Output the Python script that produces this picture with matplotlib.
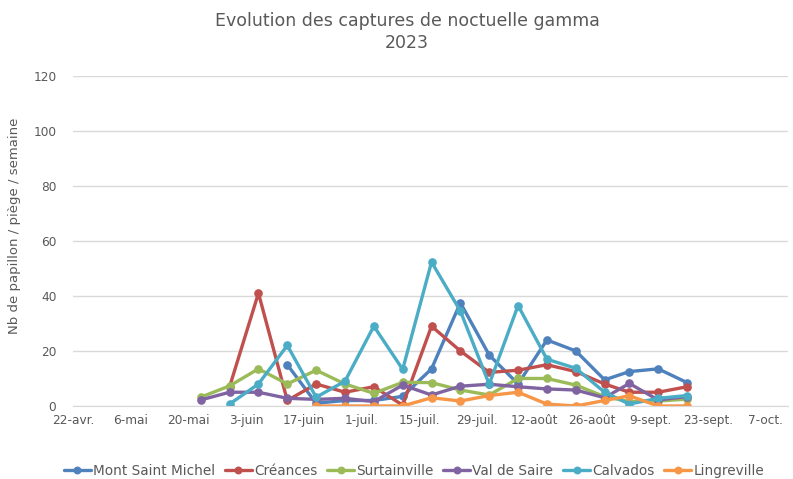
import matplotlib
matplotlib.use("Agg")
import matplotlib.pyplot as plt
import numpy as np
import datetime as dt

nan = np.nan

dates = ["2023-05-23", "2023-05-30", "2023-06-06", "2023-06-13", "2023-06-20",
         "2023-06-27", "2023-07-04", "2023-07-11", "2023-07-18", "2023-07-25",
         "2023-08-01", "2023-08-08", "2023-08-15", "2023-08-22", "2023-08-29",
         "2023-09-04", "2023-09-11", "2023-09-18"]

mont_saint_michel = [nan, nan, nan, 15, 1, 2, 2, 3.5, 13.5, 37.5, 18.5, 8, 24, 20, 9.5, 12.5, 13.5, 8.5]
creances = [nan, 7, 41, 2, 8, 5, 7, 0.3, 29, 20, 12.2, 13, 15, 12.5, 8, 5, 5, 7]
surtainville = [3.2, 7.3, 13.5, 8, 13, 8, 4.6, 8.6, 8.5, 5.8, 4, 10, 10, 7.6, 3.4, 1.6, 1.8, 2.5]
val_de_saire = [2.2, 5, 5, 2.8, 2.4, 2.8, 1.6, 7.6, 4, 7.2, 7.9, 7, 6.2, 5.8, 3, 8.2, 2.2, 3.4]
calvados = [nan, 0.7, 8, 22, 3.2, 9, 29, 13.3, 52.3, 34.5, 7.9, 36.5, 17, 13.7, 5, 0.7, 2.8, 3.8]
lingreville = [nan, nan, nan, nan, 0, 0, 0, 0, 3, 1.8, 3.8, 5, 0.7, 0, 2, 3.7, 0, 0]

series_names = ["Mont Saint Michel", "Créances", "Surtainville", "Val de Saire", "Calvados", "Lingreville"]
series_values = [mont_saint_michel, creances, surtainville, val_de_saire, calvados, lingreville]
colors = ["#4F81BD", "#C0504D", "#9BBB59", "#8064A2", "#4BACC6", "#F79646"]

tick_dates = ["2023-04-22", "2023-05-06", "2023-05-20", "2023-06-03", "2023-06-17",
              "2023-07-01", "2023-07-15", "2023-07-29", "2023-08-12", "2023-08-26",
              "2023-09-09", "2023-09-23", "2023-10-07"]
tick_labels = ["22-avr.", "6-mai", "20-mai", "3-juin", "17-juin", "1-juil.", "15-juil.",
               "29-juil.", "12-août", "26-août", "9-sept.", "23-sept.", "7-oct."]

title = "Evolution des captures de noctuelle gamma\n2023"
ylabel = "Nb de papillon / piège / semaine"

plt.rcParams['font.family'] = ['DejaVu Sans']
txt = "#595959"

fig = plt.figure(figsize=(7.93, 4.79), dpi=100)
ax = fig.add_axes([73/793, 1-406/479, (788-73)/793, (406-75.7)/479])

x = [dt.datetime.strptime(d, "%Y-%m-%d") for d in dates]
for name, vals, c in zip(series_names, series_values, colors):
    ax.plot(x, vals, color=c, lw=2.4, marker='o', markersize=5.2, label=name,
            solid_joinstyle='round', solid_capstyle='round')

x0 = dt.datetime(2023, 4, 22)
ax.set_xlim(x0, x0 + dt.timedelta(days=173.5))
ax.set_ylim(0, 120)
ax.set_yticks(np.arange(0, 121, 20))
ax.set_xticks([dt.datetime.strptime(d, "%Y-%m-%d") for d in tick_dates])
ax.set_xticklabels(tick_labels)

ax.grid(axis='y', color="#D9D9D9", lw=1)
ax.set_axisbelow(True)
for s in ['top', 'right', 'left']:
    ax.spines[s].set_visible(False)
ax.spines['bottom'].set_color("#D9D9D9")
ax.tick_params(axis='both', length=0, colors=txt, labelsize=8.7)
ax.tick_params(axis='y', pad=12)
ax.tick_params(axis='x', pad=6)

fig.text(15/793, 1-226/479, ylabel, rotation=90, ha='center', va='center', color=txt, fontsize=9.5)
fig.text(407/793, 1-32/479, title, ha='center', va='center', color=txt, fontsize=12.5, linespacing=1.35)

leg = fig.legend(loc='center', bbox_to_anchor=(414/793, 1-471/479), ncol=6, frameon=False,
                 fontsize=9.8, handlelength=2.0, handletextpad=0.15, columnspacing=0.7,
                 markerscale=0.9)
for t in leg.get_texts():
    t.set_color(txt)

fig.savefig("out.png", dpi=100)
